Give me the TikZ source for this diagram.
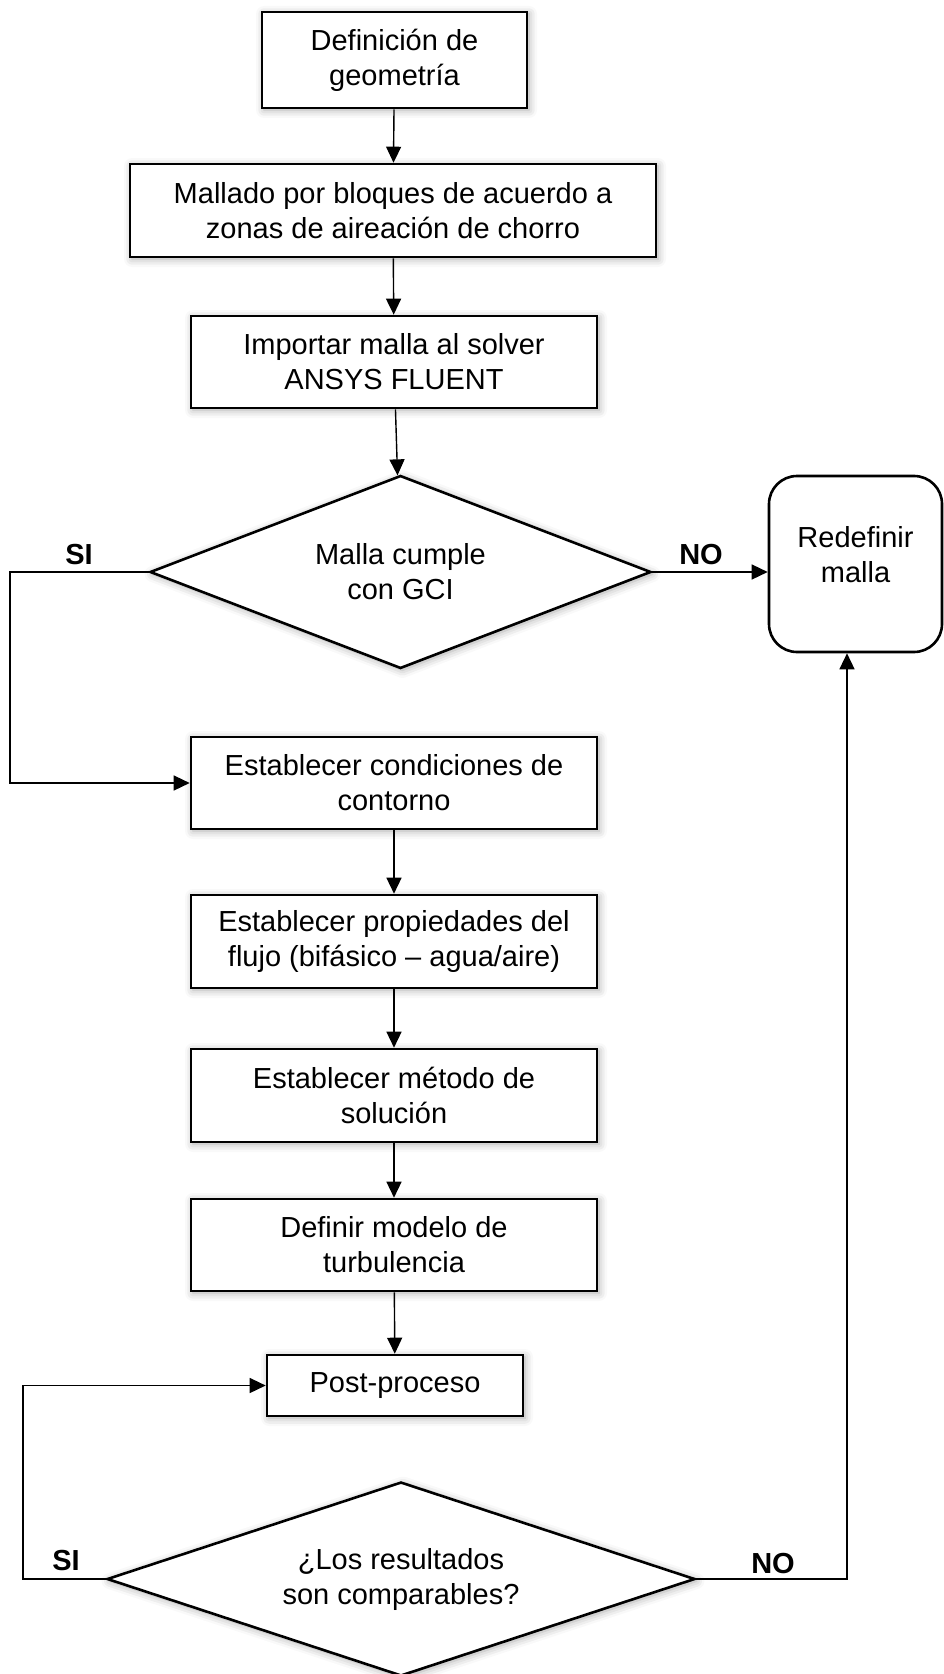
\documentclass[tikz,border=0pt]{standalone}
\usepackage{fontspec}
\setmainfont{Liberation Sans}
\usetikzlibrary{shapes.geometric,arrows.meta,shadows.blur}
\tikzset{
    sombra/.style={blur shadow={shadow xshift=1pt,shadow yshift=-1pt,shadow blur radius=4pt,shadow opacity=35}},
    paso/.style={draw, line width=1.3pt, fill=white, align=center, inner sep=0pt, sombra},
    pregunta/.style={diamond, draw, line width=1.3pt, fill=white, align=center, inner sep=0pt, sombra},
    redef/.style={draw, line width=1.3pt, fill=white, align=center, rounded corners=14pt},
    flecha/.style={-{Triangle[length=8pt,width=7.5pt]}, line width=0.7pt},
    linea/.style={line width=0.7pt},
    etiqueta/.style={font=\fontsize{14.5}{17.5}\selectfont\bfseries}
}
\begin{document}
\begin{tikzpicture}[x=0.5pt,y=-0.5pt,font=\fontsize{14.5}{17.5}\selectfont]
    \useasboundingbox (0,0) rectangle (943,1674);
    \node[paso, minimum width=132.5pt, minimum height=48pt] (geom) at (394.5,60) {Definición de\\geometría};
    \node[paso, minimum width=263pt, minimum height=46.5pt] (mallado) at (393,210.5) {Mallado por bloques de acuerdo a\\zonas de aireación de chorro};
    \node[paso, minimum width=203pt, minimum height=46pt] (importar) at (394,362) {Importar malla al solver\\ANSYS FLUENT};
    \node[pregunta, aspect=2.6, minimum width=250.5pt, minimum height=96.5pt] (gci) at (400.5,572) {Malla cumple\\con GCI};
    \node[redef, text depth=10pt, minimum width=86.5pt, minimum height=88pt] (redefinir) at (855.5,564) {Redefinir\\malla};
    \node[paso, minimum width=203pt, minimum height=46pt] (contorno) at (394,783) {Establecer condiciones de\\contorno};
    \node[paso, minimum width=203pt, minimum height=46.5pt] (flujo) at (394,941.5) {Establecer propiedades del\\flujo (bifásico – agua/aire)};
    \node[paso, minimum width=203pt, minimum height=46.5pt] (metodo) at (394,1095.5) {Establecer método de\\solución};
    \node[paso, minimum width=203pt, minimum height=46pt] (turb) at (394,1245) {Definir modelo de\\turbulencia};
    \node[paso, minimum width=128pt, minimum height=30.5pt] (post) at (395,1385.5) {Post-proceso};
    \node[pregunta, aspect=3, minimum width=294pt, minimum height=97pt] (comp) at (401,1579) {¿Los resultados\\son comparables?};
    \coordinate (izqA) at (10,572);
    \coordinate (izqB) at (23,1579);
    \coordinate (der) at (847,1579);
    \draw[flecha] (geom) -- (mallado);
    \draw[flecha] (mallado) -- (importar);
    \draw[flecha] (importar) -- (gci);
    \draw[flecha] (gci.east) -- (gci.east -| redefinir.west);
    \draw[flecha] (gci.west) -- (izqA) |- (contorno.west);
    \draw[flecha] (contorno) -- (flujo);
    \draw[flecha] (flujo) -- (metodo);
    \draw[flecha] (metodo) -- (turb);
    \draw[flecha] (turb) -- (post);
    \draw[flecha] (comp.west) -- (izqB) |- (post.west);
    \draw[flecha] (comp.east) -- (der) -- (der |- redefinir.south);
    \node[etiqueta] (siA) at (79,555) {SI};
    \node[etiqueta] (noA) at (701,555) {NO};
    \node[etiqueta] (siB) at (66,1560) {SI};
    \node[etiqueta] (noB) at (773,1563) {NO};
\end{tikzpicture}
\end{document}
